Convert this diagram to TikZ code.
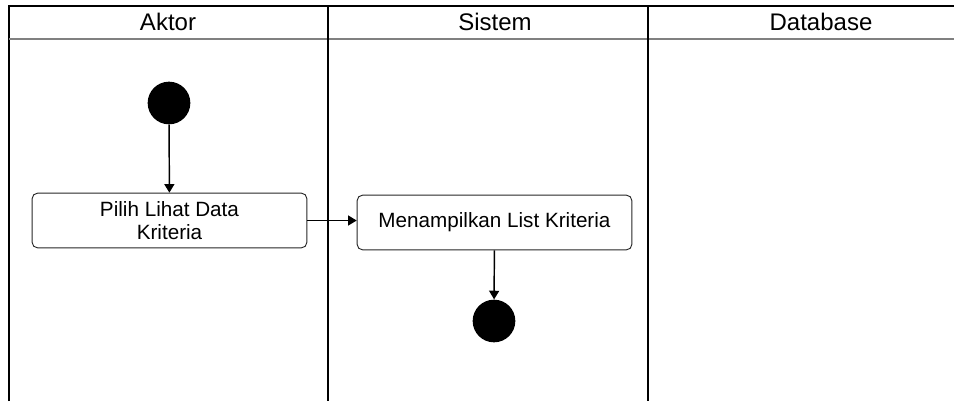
\documentclass[tikz,border=0pt]{standalone}
\usepackage{fontspec}
\setmainfont{Liberation Sans}
\usetikzlibrary{arrows.meta}
\usetikzlibrary{positioning}

\tikzset{
  lanetitle/.style={font=\fontsize{18}{21}\selectfont, inner sep=0pt},
  actbox/.style={draw=black!85, line width=0.7pt, rounded corners=4pt,
    minimum width=206pt, minimum height=41pt, inner sep=0pt, align=center,
    font=\fontsize{15.5}{17.5}\selectfont},
  dot/.style={circle, fill=black, minimum size=32pt, inner sep=0pt},
  flow/.style={line width=1.1pt, -{Triangle[width=7.5pt,length=6.5pt]}}
}

\begin{document}
\begin{tikzpicture}[x=0.75pt,y=-0.75pt]
        \useasboundingbox (0,0) rectangle (954,401);

        % Lanes
        \draw[line width=1.1pt] (9,401) -- (9,6) -- (954,6);
        \draw[black!50, line width=1.3pt] (9,39) -- (954,39);
        \foreach \x in {328,648}
        {
          \draw[line width=1.1pt] (\x,6) -- (\x,401);
        }

        % Lane titles
        \node[lanetitle] (aktor) at (168,22) {Aktor};
        \node[lanetitle] (sistem) at (495,22) {Sistem};
        \node[lanetitle] (database) at (821,22) {Database};

        % Activities
        \node[dot] (start) at (169,103) {};
        \node[actbox] (pilih) at (169.5,220.5) {Pilih Lihat Data\\Kriteria};
        \node[actbox] (tampil) at (494.5,222.5) {Menampilkan List Kriteria};
        \node[dot] (finish) at (494,321) {};

        % Flow
        \draw[flow] (start) -- (pilih);
        \draw[flow] (pilih.east) -- (pilih.east -| tampil.west);
        \draw[flow] (tampil) -- (finish);
    \end{tikzpicture}
\end{document}
